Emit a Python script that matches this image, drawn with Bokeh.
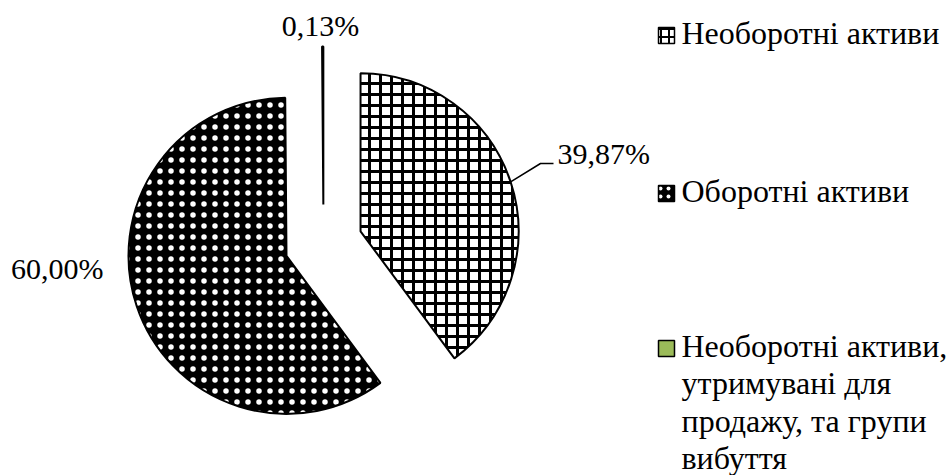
import math
from bokeh.plotting import figure
from bokeh.models import Range1d
from bokeh.core.properties import value
from bokeh.embed import file_html
from bokeh.resources import INLINE

# ---- data ----
categories = ["Необоротні активи", "Оборотні активи",
              "Необоротні активи,\nутримувані для\nпродажу, та групи\nвибуття"]
values = [39.87, 60.00, 0.13]
labels = ["39,87%", "60,00%", "0,13%"]
fill_colors = ["white", "black", "#9BBB59"]
hatch_patterns = ["+", ".", None]
hatch_colors = ["black", "white", None]

W, H = 950, 475
FONT = "Liberation Serif"
FS_LBL = "30px"
FS_LEG = "32px"

def Y(py):
    return H - py

p = figure(width=W, height=H, output_backend="svg", toolbar_location=None,
           x_range=Range1d(0, W), y_range=Range1d(0, H), min_border=0)
p.axis.visible = False
p.grid.visible = False
p.outline_line_color = None
p.background_fill_color = "white"
p.border_fill_color = "white"

cx0, cy0 = 323, Y(243)
R = 158
EXPL = 39
total = sum(values)
theta = 0.0
mids = []
centers = []
for v, fc, hp, hc in zip(values, fill_colors, hatch_patterns, hatch_colors):
    t0 = theta
    t1 = theta + v / total * 360.0
    theta = t1
    tm = (t0 + t1) / 2
    mids.append(tm)
    cx = cx0 + EXPL * math.sin(math.radians(tm))
    cy = cy0 + EXPL * math.cos(math.radians(tm))
    centers.append((cx, cy))
    kw = dict(x=cx, y=cy, radius=R, start_angle=math.radians(90 - t1),
              end_angle=math.radians(90 - t0), fill_color=fc,
              line_color="black", line_width=2)
    if hp == "+":
        kw.update(hatch_pattern=hp, hatch_color=hc, hatch_scale=11, hatch_weight=3)
    elif hp == ".":
        kw.update(hatch_pattern=hp, hatch_color=hc, hatch_scale=11, hatch_weight=0.5)
    p.wedge(**kw)

# data labels
c1 = centers[0]
ax = c1[0] + R * math.sin(math.radians(mids[0]))
ay = c1[1] + R * math.cos(math.radians(mids[0]))
p.line([ax, 540, 553], [ay, Y(163), Y(163)], line_color="black", line_width=1.5)
p.text(x=[557], y=[Y(153)], text=[labels[0]], text_font=value(FONT), text_font_size=FS_LBL,
       text_align="left", text_baseline="middle", text_color="black")
p.text(x=[103], y=[Y(268)], text=[labels[1]], text_font=value(FONT), text_font_size=FS_LBL,
       text_align="right", text_baseline="middle", text_color="black")
p.text(x=[320], y=[Y(25)], text=[labels[2]], text_font=value(FONT), text_font_size=FS_LBL,
       text_align="center", text_baseline="middle", text_color="black")

# legend
marker_y = [35, 193, 348]
text_y = [32, 190, 345]
line_h = 37.5
for cat, my, ty, fc, hp, hc in zip(categories, marker_y, text_y, fill_colors,
                                   hatch_patterns, hatch_colors):
    kw = dict(x=666, y=Y(my), width=16, height=16, fill_color=fc,
              line_color="black", line_width=1.5)
    if hp:
        kw.update(hatch_pattern=hp, hatch_color=hc, hatch_scale=8, hatch_weight=2)
    p.rect(**kw)
    lines = cat.split("\n")
    p.text(x=[681] * len(lines), y=[Y(ty + i * line_h) for i in range(len(lines))],
           text=lines, text_font=value(FONT), text_font_size=FS_LEG,
           text_align="left", text_baseline="middle", text_color="black")

open("out.html", "w").write(file_html(p, INLINE))
